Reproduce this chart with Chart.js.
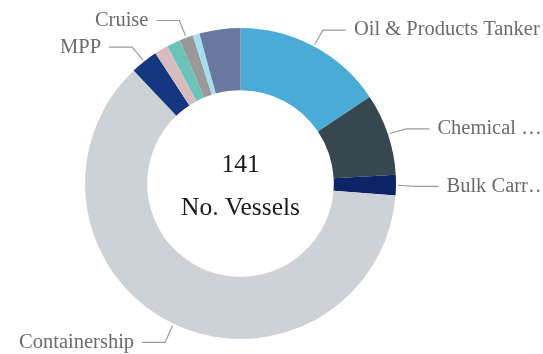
<!DOCTYPE html>
<html>
<head>
<meta charset="utf-8">
<script src="https://cdn.jsdelivr.net/npm/chart.js@4/dist/chart.umd.min.js"></script>
<style>
  html, body { margin: 0; padding: 0; background: #fff; }
  #wrap { width: 543px; height: 354px; position: relative; }
</style>
</head>
<body>
<div id="wrap"><canvas id="fleetChart"></canvas></div>
<script>
// vessel types, clockwise from 12 o'clock
const vesselTypes = ['Oil & Products Tanker', 'Chemical Tanker', 'Bulk Carrier', 'Containership',
    'MPP', 'Ro-Ro', 'Gas Carrier', 'Cruise', 'Reefer', 'Other'];
const vesselCounts = [22, 12, 3, 87, 4, 2, 2, 2, 1, 6];
const sliceColors = ['#4aabd6', '#37474f', '#0c2566', '#cdd2d6', '#15377f',
    '#d8bcbf', '#6cc4b9', '#999999', '#a8ddf0', '#68789f'];
// only these get an outside label, the rest are too thin
const labelledTypes = ['Oil & Products Tanker', 'Chemical Tanker', 'Bulk Carrier', 'Containership', 'MPP', 'Cruise'];
const centerCaption = 'No. Vessels';

const SERIF = "'Liberation Serif', 'Times New Roman', serif";

// cut a label down with an ellipsis when it runs past maxWidth;
// the ellipsis itself may hang over the edge a little
function fitText(ctx, text, maxWidth) {
    if (ctx.measureText(text).width <= maxWidth) return text;
    const limit = maxWidth + 8;
    let s = text;
    while (s.length > 0 && ctx.measureText(s + '…').width > limit) {
        s = s.slice(0, -1);
    }
    return s + '…';
}

const outsideLabels = {
    id: 'outsideLabels',
    afterDatasetsDraw(chart) {
        const ctx = chart.ctx;
        const arcs = chart.getDatasetMeta(0).data;
        const W = chart.width;
        ctx.save();
        ctx.font = '20.5px ' + SERIF;
        ctx.textBaseline = 'middle';
        arcs.forEach((arc, i) => {
            const name = chart.data.labels[i];
            if (!labelledTypes.includes(name)) return;
            const mid = (arc.startAngle + arc.endAngle) / 2;
            const cx = Math.cos(mid), cy = Math.sin(mid);
            const r0 = arc.outerRadius + 2;
            const r1 = arc.outerRadius + 19.5;
            const x0 = arc.x + cx * r0, y0 = arc.y + cy * r0;
            const x1 = arc.x + cx * r1, y1 = arc.y + cy * r1 + 1;
            const dir = cx >= 0 ? 1 : -1;
            const x2 = x1 + dir * 23;

            ctx.strokeStyle = '#9a9a9a';
            ctx.lineWidth = 1.2;
            ctx.beginPath();
            ctx.moveTo(x0, y0);
            ctx.lineTo(x1, y1);
            ctx.lineTo(x2, y1);
            ctx.stroke();

            ctx.fillStyle = '#6b6b6b';
            const tx = x2 + dir * 8;
            if (dir > 0) {
                ctx.textAlign = 'left';
                ctx.fillText(fitText(ctx, name, W - tx), tx, y1);
            } else {
                ctx.textAlign = 'right';
                ctx.fillText(fitText(ctx, name, tx), tx, y1);
            }
        });
        ctx.restore();
    }
};

const centerText = {
    id: 'centerText',
    afterDraw(chart) {
        const ctx = chart.ctx;
        const arc = chart.getDatasetMeta(0).data[0];
        const total = chart.data.datasets[0].data.reduce((a, b) => a + b, 0);
        ctx.save();
        ctx.fillStyle = '#1a1a1a';
        ctx.textAlign = 'center';
        ctx.textBaseline = 'alphabetic';
        ctx.font = '25.5px ' + SERIF;
        ctx.fillText(String(total), arc.x, arc.y - 11.5);
        ctx.fillText(centerCaption, arc.x, arc.y + 31.5);
        ctx.restore();
    }
};

new Chart(document.getElementById('fleetChart').getContext('2d'), {
    type: 'doughnut',
    data: {
        labels: vesselTypes,
        datasets: [{
            data: vesselCounts,
            backgroundColor: sliceColors,
            borderWidth: 0,
            hoverOffset: 0
        }]
    },
    options: {
        responsive: true,
        maintainAspectRatio: false,
        animation: false,
        cutout: '60%',
        layout: { padding: { top: 28, bottom: 15, left: 85, right: 147 } },
        plugins: {
            legend: { display: false },
            tooltip: { enabled: false }
        }
    },
    plugins: [outsideLabels, centerText]
});
</script>
</body>
</html>
